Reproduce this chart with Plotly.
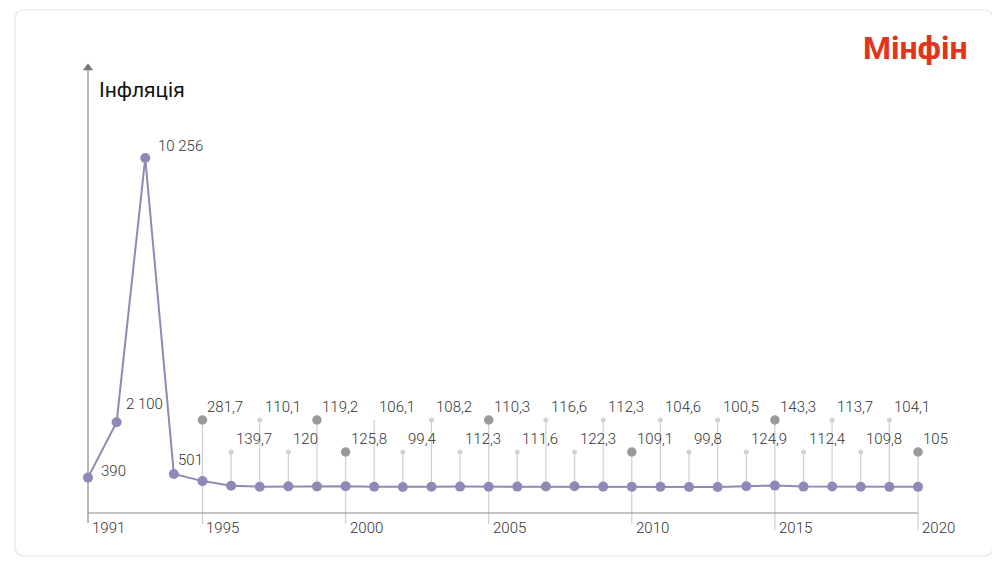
import plotly.graph_objects as go

# ---------------- data ----------------
years = list(range(1991, 2021))
inflation = [390, 2100, 10256, 501, 281.7, 139.7, 110.1, 120, 119.2, 125.8,
             106.1, 99.4, 108.2, 112.3, 110.3, 111.6, 116.6, 122.3, 112.3, 109.1,
             104.6, 99.8, 100.5, 124.9, 143.3, 112.4, 113.7, 109.8, 104.1, 105]
tick_years = [1991, 1995, 2000, 2005, 2010, 2015, 2020]
title_text = "Інфляція"
brand_text = "Мінфін"

# ---------------- layout helpers (pixel calibration, screen pixels) ----------------
OFF = 8                                   # page body margin
W, H = 1000 - OFF, 567 - OFF
ML, MR, MT, MB = 42, 42, 32, 14           # plot-area margins (figure pixels)
YR0, YR0_PX, YR1, YR1_PX = 1991, 88, 2020, 918
V0, V0_PX, V1, V1_PX = 100, 487, 10256, 158


def yr_at(px):
    return YR0 + (px - YR0_PX) * (YR1 - YR0) / (YR1_PX - YR0_PX)


def v_at(py):
    return V0 + (V0_PX - py) * (V1 - V0) / (V0_PX - V1_PX)


def xp(px):
    return (px - OFF - ML) / (W - ML - MR)


def yp(py):
    return (H - MB - (py - OFF)) / (H - MT - MB)


def fmt(v):
    if float(v).is_integer():
        return f"{int(v):,}".replace(",", " ")
    return f"{v:.1f}".replace(".", ",")


PURPLE = "#8f89b8"
STEM = "#cfcfcf"
AXIS = "#8a8a8a"
TXT = "#333333"
FONT = "Roboto"
LBL_FONT = dict(family=FONT, size=15, color=TXT, weight=300)

top_level = v_at(420)
low_level = v_at(452)
axis_v = v_at(513)

big_dot_years = {1995, 1999, 2000, 2005, 2010, 2015, 2020}
no_dot_years = {2001}

fig = go.Figure()

# stems
sx, sy = [], []
small_x, small_y, big_x, big_y = [], [], [], []
for yr, v in zip(years, inflation):
    if yr < 1995:
        continue
    level = top_level if yr % 2 == 1 else low_level
    bottom = v_at(530 if yr >= 2015 else 524) if yr in tick_years else v
    sx += [yr, yr, None]
    sy += [level, bottom, None]
    if yr in no_dot_years:
        continue
    if yr in big_dot_years:
        big_x.append(yr); big_y.append(level)
    else:
        small_x.append(yr); small_y.append(level)

fig.add_trace(go.Scatter(x=sx, y=sy, mode="lines", line=dict(color=STEM, width=1.2),
                         hoverinfo="skip", showlegend=False))

# axes
fig.add_trace(go.Scatter(x=[years[0], years[-1]], y=[axis_v, axis_v], mode="lines",
                         line=dict(color=AXIS, width=1.2), hoverinfo="skip", showlegend=False))
fig.add_trace(go.Scatter(x=[years[0], years[0]], y=[v_at(523), v_at(68)], mode="lines",
                         line=dict(color=AXIS, width=1.2), hoverinfo="skip", showlegend=False))
fig.add_trace(go.Scatter(x=[years[0]], y=[v_at(68)], mode="markers",
                         marker=dict(symbol="triangle-up", size=9, color="#777777"),
                         cliponaxis=False, hoverinfo="skip", showlegend=False))

# label dots
fig.add_trace(go.Scatter(x=small_x, y=small_y, mode="markers",
                         marker=dict(size=5, color="#d2d2d2"), hoverinfo="skip", showlegend=False))
fig.add_trace(go.Scatter(x=big_x, y=big_y, mode="markers",
                         marker=dict(size=9.5, color="#9a9a9a"), hoverinfo="skip", showlegend=False))

# main series
fig.add_trace(go.Scatter(x=years, y=inflation, mode="lines+markers",
                         line=dict(color=PURPLE, width=2),
                         marker=dict(size=10, color=PURPLE),
                         cliponaxis=False, showlegend=False))

annotations = []
# early labels next to the points
early_offsets = {1991: (11, 7), 1992: (7, 18), 1993: (11, 12), 1994: (2, 14)}
for yr, v in zip(years, inflation):
    if yr in early_offsets:
        dx, dy = early_offsets[yr]
        annotations.append(dict(x=yr, y=v, text=fmt(v), showarrow=False, xanchor="left",
                                yanchor="middle", xshift=dx, yshift=dy, font=LBL_FONT))
    elif yr >= 1995:
        level = top_level if yr % 2 == 1 else low_level
        annotations.append(dict(x=yr, y=level, text=fmt(v), showarrow=False, xanchor="left",
                                yanchor="middle", xshift=3, yshift=13, font=LBL_FONT))

# tick labels
for yr in tick_years:
    annotations.append(dict(x=yr, y=v_at(528), text=str(yr), showarrow=False, xanchor="left",
                            yanchor="middle", xshift=2, font=LBL_FONT))

# title and brand
annotations.append(dict(xref="paper", yref="paper", x=xp(97), y=yp(90), text=title_text,
                        showarrow=False, xanchor="left", yanchor="middle",
                        font=dict(family=FONT, size=21, color="#111111")))
annotations.append(dict(xref="paper", yref="paper", x=xp(915), y=yp(48), text=brand_text,
                        showarrow=False, xanchor="center", yanchor="middle",
                        font=dict(family=FONT, size=32, color="#e2341d", weight=700)))

# card outline
cl, ct, cr, cb, r = 15, 10, 993, 556, 10
path = (f"M {xp(cl + r)},{yp(ct)} L {xp(cr - r)},{yp(ct)} Q {xp(cr)},{yp(ct)} {xp(cr)},{yp(ct + r)} "
        f"L {xp(cr)},{yp(cb - r)} Q {xp(cr)},{yp(cb)} {xp(cr - r)},{yp(cb)} "
        f"L {xp(cl + r)},{yp(cb)} Q {xp(cl)},{yp(cb)} {xp(cl)},{yp(cb - r)} "
        f"L {xp(cl)},{yp(ct + r)} Q {xp(cl)},{yp(ct)} {xp(cl + r)},{yp(ct)} Z")

fig.update_layout(
    width=W, height=H,
    margin=dict(l=ML, r=MR, t=MT, b=MB),
    paper_bgcolor="white", plot_bgcolor="rgba(0,0,0,0)",
    xaxis=dict(range=[yr_at(ML + OFF), yr_at(OFF + W - MR)], visible=False, fixedrange=True),
    yaxis=dict(range=[v_at(OFF + H - MB), v_at(OFF + MT)], visible=False, fixedrange=True),
    annotations=annotations,
    shapes=[dict(type="path", xref="paper", yref="paper", path=path,
                 line=dict(color="#e6e6e6", width=1.2), layer="below")],
    font=dict(family=FONT),
    hovermode="closest",
)

fig.write_html("out.html")
